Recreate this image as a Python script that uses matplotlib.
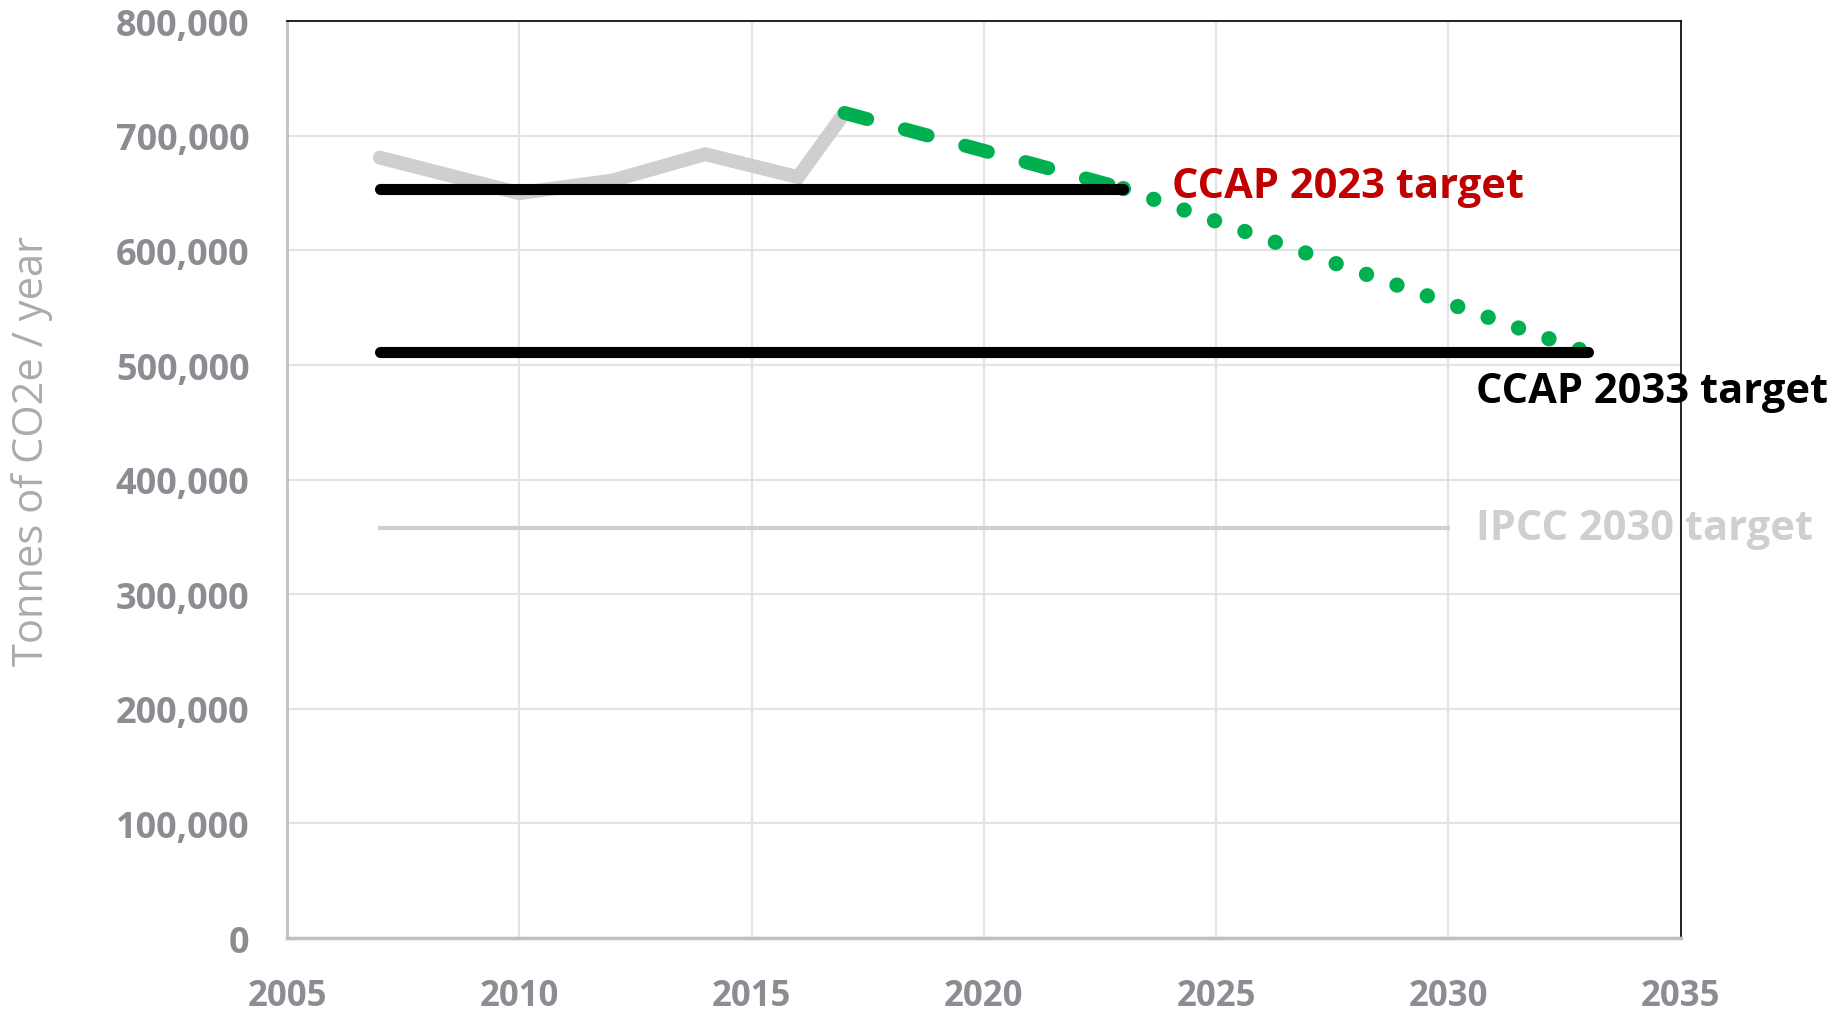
import matplotlib
matplotlib.use("Agg")
import matplotlib.pyplot as plt
from matplotlib.ticker import FuncFormatter

# historic emissions (grey)
hist_years = [2007, 2010, 2012, 2014, 2016, 2017]
hist_vals = [681000, 650000, 661000, 684000, 664000, 720000]

# trajectory to CCAP 2023 target (dashed green)
traj1_years = [2017, 2023]
traj1_vals = [720000, 654000]

# trajectory to CCAP 2033 target (dotted green)
traj2_years = [2023, 2033]
traj2_vals = [654000, 511000]

# target lines
ccap2023_years = [2007, 2023]
ccap2023_vals = [654000, 654000]
ccap2033_years = [2007, 2033]
ccap2033_vals = [511000, 511000]
ipcc_years = [2007, 2030]
ipcc_vals = [358000, 358000]

xticks = [2005, 2010, 2015, 2020, 2025, 2030, 2035]
yticks = [0, 100000, 200000, 300000, 400000, 500000, 600000, 700000, 800000]

GREY = '#D0CECE'
GREEN = '#00B050'
RED = '#C00000'
TICK = '#8C8C93'

plt.rcParams['font.family'] = ['Open Sans', 'DejaVu Sans']

fig = plt.figure(figsize=(18.47, 10.12), dpi=100)
ax = fig.add_axes([0.1554, 0.0721, 0.7546, 0.9059])

ax.plot(hist_years, hist_vals, color=GREY, lw=10, solid_capstyle='round',
        solid_joinstyle='miter', zorder=2)
ax.plot(ipcc_years, ipcc_vals, color=GREY, lw=3, zorder=2)
ax.plot(traj1_years, traj1_vals, color=GREEN, lw=10, linestyle=(0, (1.7, 2.8)),
        dash_capstyle='round', zorder=3)
ax.plot(traj2_years, traj2_vals, color=GREEN, lw=11, linestyle=(0, (0.01, 2.1)),
        dash_capstyle='round', zorder=3)
ax.plot(ccap2023_years, ccap2023_vals, color='black', lw=8, solid_capstyle='round', zorder=4)
ax.plot(ccap2033_years, ccap2033_vals, color='black', lw=8, solid_capstyle='round', zorder=4)

ax.text(2024.05, 656000, 'CCAP 2023 target', color=RED, fontsize=30, fontweight='bold',
        va='center', ha='left', zorder=5)
ax.text(2030.6, 477000, 'CCAP 2033 target', color='black', fontsize=30, fontweight='bold',
        va='center', ha='left', zorder=5, clip_on=False)
ax.text(2030.6, 357000, 'IPCC 2030 target', color=GREY, fontsize=30, fontweight='bold',
        va='center', ha='left', zorder=5, clip_on=False)

ax.set_xlim(2005, 2035)
ax.set_ylim(0, 800000)
ax.set_xticks(xticks)
ax.set_yticks(yticks)
ax.yaxis.set_major_formatter(FuncFormatter(lambda v, p: f'{int(v):,}'))
ax.grid(True, color='#E3E3E3', lw=1.5, zorder=0)
ax.set_axisbelow(True)
ax.tick_params(axis='both', length=0, labelcolor=TICK)
ax.tick_params(axis='y', pad=27, labelsize=26)
ax.tick_params(axis='x', pad=29, labelsize=25)
for lab in ax.get_xticklabels() + ax.get_yticklabels():
    lab.set_fontweight('bold')

ax.spines['left'].set_color('#BFBFBF')
ax.spines['left'].set_linewidth(2)
ax.spines['bottom'].set_color('#BFBFBF')
ax.spines['bottom'].set_linewidth(2.5)
ax.spines['top'].set_color('black')
ax.spines['top'].set_linewidth(1.2)
ax.spines['right'].set_color('black')
ax.spines['right'].set_linewidth(1.2)

fig.text(0.0172, 0.554, 'Tonnes of CO2e / year', rotation=90, color='#ABABAB',
         fontsize=30, va='center', ha='center')

fig.savefig('out.png', dpi=100)
